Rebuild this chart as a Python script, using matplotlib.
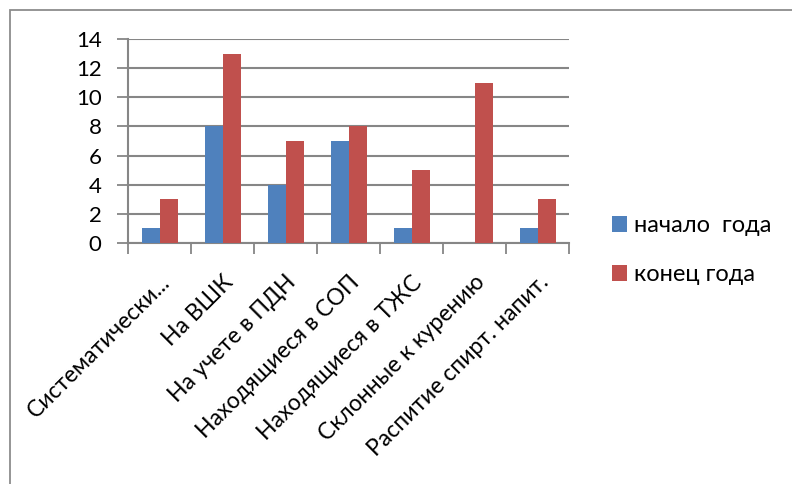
import numpy as np
import matplotlib.pyplot as plt
from matplotlib.patches import Rectangle

plt.rcParams['font.family'] = ['Lato', 'DejaVu Sans']

categories = ["Систематически...", "На ВШК", "На учете в ПДН", "Находящиеся в СОП",
              "Находящиеся в ТЖС", "Склонные к курению", "Распитие спирт. напит."]
start_year = [1, 8, 4, 7, 1, 0, 1]
end_year = [3, 13, 7, 8, 5, 11, 3]
series_names = ["начало  года", "конец года"]
yticks = [0, 2, 4, 6, 8, 10, 12, 14]

blue = '#4F81BD'
red = '#C0504D'
grid = '#868686'

fig = plt.figure(figsize=(7.92, 4.84), dpi=100)
# outer chart frame (left and top edges visible)
fig.patches.append(Rectangle((10/792, -0.1), 1.2, (484-10)/484 + 0.1, transform=fig.transFigure,
                             fill=False, edgecolor='#8c8c8c', linewidth=1.3))

ax = fig.add_axes([128/792, 1 - 243/484, (569-128)/792, (243-39)/484])

x = np.arange(len(categories))
w = 1/3.5
ax.bar(x - w/2, start_year, w, color=blue, label=series_names[0], zorder=3)
ax.bar(x + w/2, end_year, w, color=red, label=series_names[1], zorder=3)

ax.set_xlim(-0.5, len(categories) - 0.5)
ax.set_ylim(0, 14)
ax.set_yticks(yticks)
ax.tick_params(axis='y', labelsize=16, length=8, width=1.3, color=grid, pad=11)
ax.yaxis.grid(True, color=grid, linewidth=1.5, zorder=0)

# category boundaries as ticks
ax.set_xticks(np.arange(len(categories) + 1) - 0.5)
ax.set_xticklabels([])
ax.tick_params(axis='x', length=8, width=1.3, color=grid)
for i, c in enumerate(categories):
    ax.text(i + 0.19, -2.8, c, rotation=45, ha='right', va='baseline', rotation_mode='anchor',
            fontsize=16.5)

for s in ['top', 'right']:
    ax.spines[s].set_visible(False)
for s in ['left', 'bottom']:
    ax.spines[s].set_color(grid)
    ax.spines[s].set_linewidth(1.5)

fig.legend(loc='upper left', bbox_to_anchor=(612/792, 1 - 215/484), frameon=False,
           fontsize=17, handlelength=0.64, handleheight=0.64, handletextpad=0.3,
           labelspacing=1.2, borderpad=0, borderaxespad=0)

plt.savefig('out.png', dpi=100)
